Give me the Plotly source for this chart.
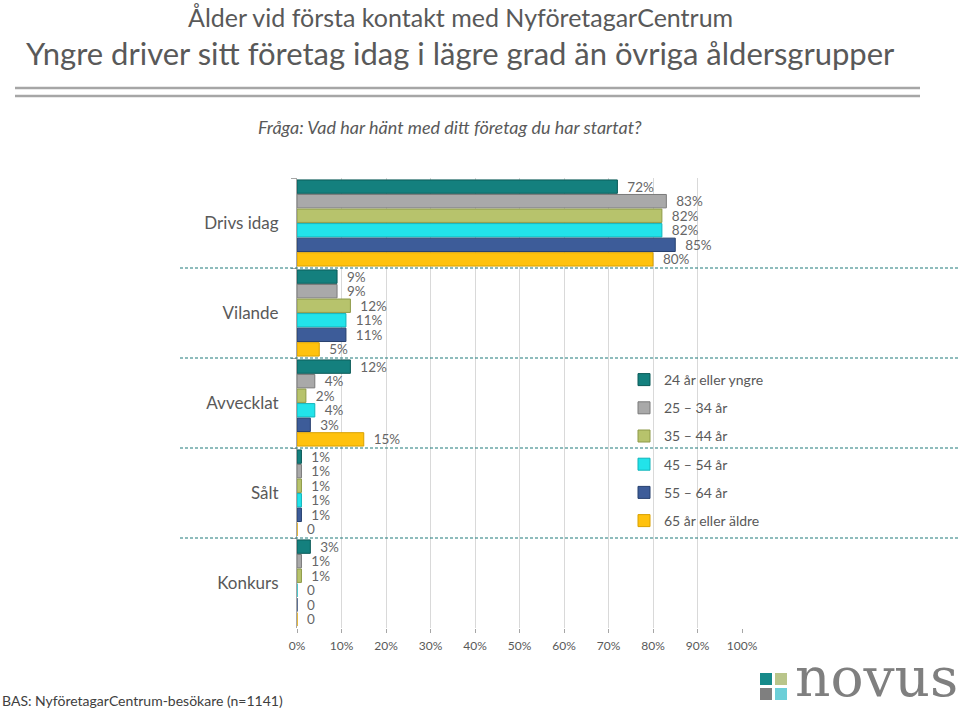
import plotly.graph_objects as go

categories = ["Drivs idag", "Vilande", "Avvecklat", "Sålt", "Konkurs"]
series_names = ["24 år eller yngre", "25 – 34 år", "35 – 44 år", "45 – 54 år", "55 – 64 år", "65 år eller äldre"]
values = {
    "24 år eller yngre": [72, 9, 12, 1, 3],
    "25 – 34 år": [83, 9, 4, 1, 1],
    "35 – 44 år": [82, 12, 2, 1, 1],
    "45 – 54 år": [82, 11, 4, 1, 0],
    "55 – 64 år": [85, 11, 3, 1, 0],
    "65 år eller äldre": [80, 5, 15, 0, 0],
}
colors = ["#14807E", "#A9A9A9", "#B7C36C", "#22E3EA", "#3D5C99", "#FFC20E"]
line_colors = ["#0B5A58", "#7A7A7A", "#8E9A48", "#12B4BA", "#27406F", "#D9A000"]
tick_vals = [0, 10, 20, 30, 40, 50, 60, 70, 80, 90, 100]
tick_text = [f"{v}%" for v in tick_vals]

W, H = 960, 711
L, R, T, B = 297, 742, 178, 628


def px(x):
    return (x - L) / (R - L)


def py(y):
    return (B - y) / (B - T)


def fmt(v):
    return "  0" if v == 0 else f"  {v}%"


fig = go.Figure()
for i, name in enumerate(series_names):
    vals = values[name]
    fig.add_trace(go.Bar(
        y=categories, x=vals, name=name, orientation="h",
        marker=dict(color=colors[i], line=dict(color=line_colors[i], width=1)),
        text=[fmt(v) for v in vals], textposition="outside", cliponaxis=False,
        textfont=dict(size=13.5, color="#666666"),
        legendgroup=f"g{i}",
    ))

font = "Lato, 'Open Sans', sans-serif"
shapes = []
for b in [0.5, 1.5, 2.5, 3.5]:
    shapes.append(dict(type="line", xref="paper", yref="y", x0=px(180), x1=px(960), y0=b, y1=b,
                       line=dict(color="#1F7A7A", width=1.2, dash="3px,2px"), layer="above"))
for yy in [88, 96]:
    shapes.append(dict(type="line", xref="paper", yref="paper", x0=px(15), x1=px(920), y0=py(yy), y1=py(yy),
                       line=dict(color="#A6A6A6", width=2.5)))
# logo squares
sq = [(760, 673, "#168A8A"), (775, 673, "#B9C58A"), (760, 688, "#7F7F7F"), (775, 688, "#6CCFD8")]
for x0, y0, c in sq:
    shapes.append(dict(type="rect", xref="paper", yref="paper", x0=px(x0), x1=px(x0 + 12),
                       y0=py(y0), y1=py(y0 + 12), fillcolor=c, line=dict(width=0)))

annotations = [
    dict(text="Ålder vid första kontakt med NyföretagarCentrum", x=px(460), y=py(17), xref="paper", yref="paper",
         showarrow=False, font=dict(size=25, color="#595959", family=font), xanchor="center", yanchor="middle"),
    dict(text="Yngre driver sitt företag idag i lägre grad än övriga åldersgrupper", x=px(460), y=py(53),
         xref="paper", yref="paper", showarrow=False, font=dict(size=31, color="#595959", family=font),
         xanchor="center", yanchor="middle"),
    dict(text="<i>Fråga: Vad har hänt med ditt företag du har startat?</i>", x=px(450), y=py(127),
         xref="paper", yref="paper", showarrow=False, font=dict(size=18, color="#595959", family=font),
         xanchor="center", yanchor="middle"),
    dict(text="BAS: NyföretagarCentrum-besökare (n=1141)", x=px(0), y=py(700), xref="paper", yref="paper",
         showarrow=False, font=dict(size=14, color="#404040", family=font), xanchor="left", yanchor="middle"),
    dict(text="novus", x=px(793), y=py(711), xref="paper", yref="paper", showarrow=False,
         font=dict(size=55, color="#7F7F7F", family="'DejaVu Serif', serif"), xanchor="left", yanchor="bottom"),
]

fig.update_layout(
    width=W, height=H,
    margin=dict(l=L, r=W - R, t=T, b=H - B),
    paper_bgcolor="white", plot_bgcolor="white",
    barmode="group", bargap=0.03, bargroupgap=0.08,
    font=dict(family=font, color="#595959"),
    showlegend=True,
    legend=dict(x=px(624), y=py(364), xanchor="left", yanchor="top", font=dict(size=14, color="#595959"),
                tracegroupgap=7, bgcolor="rgba(0,0,0,0)", itemwidth=30),
    shapes=shapes, annotations=annotations,
    xaxis=dict(range=[0, 100], tickvals=tick_vals, ticktext=tick_text, showgrid=True, gridcolor="#D9D9D9",
               zeroline=False, showline=False, ticks="outside", ticklen=4, tickcolor="#A6A6A6",
               tickfont=dict(size=12, color="#595959"), ticklabelstandoff=3, fixedrange=True),
    yaxis=dict(autorange="reversed", showline=True, linecolor="#A6A6A6", ticks="outside", tickson="boundaries",
               ticklen=5, tickcolor="#A6A6A6", tickfont=dict(size=17, color="#595959"),
               ticklabelstandoff=14, fixedrange=True),
)
fig.update_traces(constraintext="none")

fig.write_html("out.html", config={"displayModeBar": False},
               post_script="document.body.style.margin='0';document.body.style.overflow='hidden';")
